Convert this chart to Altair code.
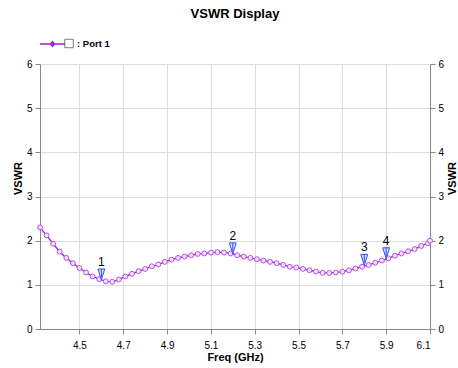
import altair as alt
import pandas as pd

# Swept frequency points (GHz) and the measured VSWR of port 1
freq_ghz = [
    4.32, 4.35, 4.38, 4.41, 4.44, 4.47, 4.50, 4.53, 4.56, 4.59,
    4.62, 4.65, 4.68, 4.71, 4.74, 4.77, 4.80, 4.83, 4.86, 4.89,
    4.92, 4.95, 4.98, 5.01, 5.04, 5.07, 5.10, 5.13, 5.16, 5.19,
    5.22, 5.25, 5.28, 5.31, 5.34, 5.37, 5.40, 5.43, 5.46, 5.49,
    5.52, 5.55, 5.58, 5.61, 5.64, 5.67, 5.70, 5.73, 5.76, 5.79,
    5.82, 5.85, 5.88, 5.91, 5.94, 5.97, 6.00, 6.03, 6.06, 6.09,
    6.10,
]
vswr = [
    2.30, 2.12, 1.93, 1.75, 1.61, 1.49, 1.38, 1.28, 1.19, 1.13,
    1.08, 1.07, 1.12, 1.19, 1.25, 1.31, 1.36, 1.42, 1.46, 1.52,
    1.57, 1.61, 1.64, 1.67, 1.70, 1.71, 1.73, 1.74, 1.73, 1.71,
    1.67, 1.64, 1.61, 1.58, 1.55, 1.52, 1.49, 1.45, 1.41, 1.39,
    1.36, 1.33, 1.30, 1.27, 1.27, 1.28, 1.30, 1.33, 1.37, 1.41,
    1.45, 1.50, 1.55, 1.60, 1.66, 1.71, 1.76, 1.81, 1.88, 1.94,
    2.00,
]

# Numbered markers placed on the trace
marker_ids = ["1", "2", "3", "4"]
marker_freq = [4.60, 5.20, 5.80, 5.90]
marker_vswr = [1.11, 1.70, 1.44, 1.59]

x_ticks = [4.5, 4.7, 4.9, 5.1, 5.3, 5.5, 5.7, 5.9, 6.1]
y_ticks = [0, 1, 2, 3, 4, 5, 6]

FONT = "Liberation Sans"
LINE_COLOR = "#A01ED2"
POINT_STROKE = "#B650E8"
POINT_FILL = "#F4E0FF"
AXIS_GRAY = "#8A8A8A"
GRID_GRAY = "#BDBDBD"

curve = pd.DataFrame({"freq": freq_ghz, "vswr": vswr, "trace": ": Port 1"})
markers = pd.DataFrame({"id": marker_ids, "freq": marker_freq, "vswr": marker_vswr})

x_scale = alt.Scale(domain=[4.32, 6.1], nice=False, zero=False)
y_scale = alt.Scale(domain=[0, 6], nice=False)

x_axis = alt.Axis(
    values=x_ticks, title="Freq (GHz)", format=".1f", grid=True,
    labelPadding=6, titlePadding=1,
)
y_left = alt.Axis(
    values=y_ticks, title="VSWR", orient="left", grid=True,
    labelPadding=3, titlePadding=3, titleY=114,
)
y_right = alt.Axis(
    values=y_ticks, title="VSWR", orient="right", grid=False,
    labelPadding=3, titlePadding=14, titleY=114, titleAngle=270,
)

X = alt.X("freq:Q", scale=x_scale, axis=x_axis)
Y_plain = alt.Y("vswr:Q", scale=y_scale, axis=None)

# legend glyph: a line with a small diamond in the middle
legend_path = "M-1,0L1,0M-0.17,0L0,-0.2L0.17,0L0,0.2Z"

line = alt.Chart(curve).mark_line(strokeWidth=1.3).encode(
    x=X,
    y=alt.Y("vswr:Q", scale=y_scale, axis=y_left),
    color=alt.Color(
        "trace:N",
        scale=alt.Scale(range=[LINE_COLOR]),
        legend=alt.Legend(
            title=None, orient="none", legendX=-1, legendY=-33.5,
            symbolType=legend_path, symbolSize=625, symbolStrokeWidth=1.3,
            symbolFillColor=POINT_FILL, labelOffset=11,
            labelFont=FONT, labelFontSize=9.5, labelFontWeight="bold",
            labelColor="#000000", padding=0,
        ),
    ),
)

points = alt.Chart(curve).mark_point(
    shape="circle", filled=True, fill=POINT_FILL, stroke=POINT_STROKE,
    strokeWidth=1, size=24, opacity=1,
).encode(x=X, y=Y_plain)

# marker triangles: tip sits on the trace
tri_path = "M-0.62,-1L0.62,-1L0,1ZM0,-1L0,0.5"
tris = alt.Chart(markers).mark_point(
    shape=tri_path, filled=True, fill="#D6E2FF", stroke="#2F4BFF",
    strokeWidth=1, size=121, yOffset=-5.5, opacity=1,
).encode(x=X, y=Y_plain)

tri_labels = alt.Chart(markers).mark_text(
    font=FONT, fontSize=12, color="#000000", dy=-14, baseline="alphabetic",
).encode(x=X, y=Y_plain, text="id:N")

# empty check box next to the legend glyph
checkbox = alt.Chart(alt.Data(values=[{}])).mark_square(
    size=72, filled=False, stroke="#7A7A7A", strokeWidth=1, opacity=1,
).encode(x=alt.value(29), y=alt.value(-20.5))

right_axis = alt.Chart(curve).mark_line(opacity=0).encode(
    x=X, y=alt.Y("vswr:Q", scale=y_scale, axis=y_right),
)

chart = (
    alt.layer(line, points, tris, tri_labels, checkbox, right_axis)
    .resolve_axis(y="independent")
    .resolve_scale(y="shared")
    .properties(
        width=390, height=265,
        autosize=alt.AutoSizeParams(type="none"),
        padding={"left": 40, "top": 64, "right": 28, "bottom": 39},
        title=alt.TitleParams(
            "VSWR Display", font=FONT, fontSize=13, fontWeight="bold",
            color="#000000", anchor="middle", frame="group", offset=10,
        ),
    )
    .configure_view(stroke="#222222", strokeWidth=1)
    .configure_axis(
        domainColor=AXIS_GRAY, domainWidth=2, ticks=False,
        gridColor=GRID_GRAY, gridDash=[3, 3], gridWidth=1,
        labelFont=FONT, labelFontSize=10, labelColor="#222222",
        titleFont=FONT, titleFontSize=9.5, titleFontWeight="bold",
        titleColor="#000000",
    )
    .configure(background="white")
)

chart.save("out.html", embed_options={"renderer": "svg", "actions": False})
